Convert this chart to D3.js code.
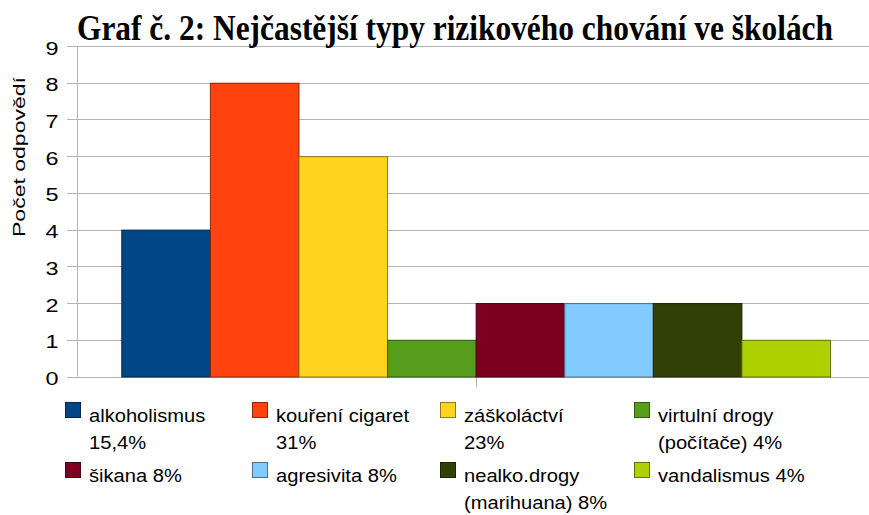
<!DOCTYPE html>
<html>
<head>
<meta charset="utf-8">
<script src="https://cdn.jsdelivr.net/npm/d3@7"></script>
<style>
  body { margin: 0; background: #fff; }
  svg { display: block; }
</style>
</head>
<body>
<div id="chart"></div>
<script>
const title = "Graf č. 2: Nejčastější typy rizikového chování ve školách";
const yLabel = "Počet odpovědí";
const series = ["alkoholismus", "kouření cigaret", "záškoláctví", "virtulní drogy",
                "šikana", "agresivita", "nealko.drogy", "vandalismus"];
const values = [4, 8, 6, 1, 2, 2, 2, 1];
const legendLabels = [
    ["alkoholismus", "15,4%"],
    ["kouření cigaret", "31%"],
    ["záškoláctví", "23%"],
    ["virtulní drogy", "(počítače) 4%"],
    ["šikana 8%"],
    ["agresivita 8%"],
    ["nealko.drogy", "(marihuana) 8%"],
    ["vandalismus 4%"]
];
const colors = ["#004586", "#ff420e", "#ffd320", "#579d1c", "#7e0021", "#83caff", "#314004", "#aecf00"];
const yTicks = [0, 1, 2, 3, 4, 5, 6, 7, 8, 9];

const width = 869, height = 515;
const plot = { left: 77.5, top: 46, bottom: 376.5, barsLeft: 121.3, barsRight: 830 };

const svg = d3.select("#chart").append("svg")
    .attr("width", width)
    .attr("height", height)
    .style("font-family", "'Liberation Sans', Arial, sans-serif");

// the original text is drawn a bit wider than the font, stretch it
function stretch(sel, k) {
    sel.each(function() {
        const w = this.getComputedTextLength();
        d3.select(this).attr("textLength", w * k).attr("lengthAdjust", "spacingAndGlyphs");
    });
}

const y = d3.scaleLinear().domain([0, 9]).range([plot.bottom, plot.top]);
const xs = d3.scaleBand().domain(series).range([plot.barsLeft, plot.barsRight]);

// grid
svg.append("g")
    .selectAll("line")
    .data(yTicks)
    .join("line")
    .attr("x1", 67)
    .attr("x2", width)
    .attr("y1", d => Math.round(y(d)) + 0.5)
    .attr("y2", d => Math.round(y(d)) + 0.5)
    .attr("stroke", "#b3b3b3")
    .attr("stroke-width", 1);

// y axis line
svg.append("line")
    .attr("x1", plot.left).attr("x2", plot.left)
    .attr("y1", plot.top).attr("y2", plot.bottom)
    .attr("stroke", "#b3b3b3");

// x tick at category centre
const cx = Math.round((plot.barsLeft + plot.barsRight) / 2) + 0.5;
svg.append("line")
    .attr("x1", cx).attr("x2", cx)
    .attr("y1", plot.bottom).attr("y2", plot.bottom + 11)
    .attr("stroke", "#b3b3b3");

// y tick labels
svg.append("g")
    .selectAll("text")
    .data(yTicks)
    .join("text")
    .attr("x", 58.5)
    .attr("y", d => y(d) + 8.5)
    .attr("text-anchor", "end")
    .attr("font-size", 18)
    .attr("fill", "#000")
    .text(d => d)
    .call(stretch, 1.3);

// bars
svg.append("g")
    .selectAll("rect")
    .data(values)
    .join("rect")
    .attr("x", (d, i) => xs(series[i]) + 0.5)
    .attr("y", d => y(d) + 0.5)
    .attr("width", xs.bandwidth())
    .attr("height", d => y(0) - y(d))
    .attr("fill", (d, i) => colors[i])
    .attr("stroke", (d, i) => d3.color(colors[i]).darker(1.6))
    .attr("stroke-width", 1);

// y axis title
svg.append("text")
    .attr("transform", "translate(24.5,157) rotate(-90)")
    .attr("text-anchor", "middle")
    .attr("font-size", 17)
    .text(yLabel)
    .attr("textLength", 160)
    .attr("lengthAdjust", "spacingAndGlyphs");

// title
svg.append("text")
    .attr("x", 77)
    .attr("y", 40)
    .attr("font-family", "'Liberation Serif', 'Times New Roman', serif")
    .attr("font-weight", "bold")
    .attr("font-size", 35)
    .text(title)
    .attr("textLength", 756)
    .attr("lengthAdjust", "spacingAndGlyphs");

// legend
const colX = [65, 252, 440, 634];
const rowY = [402, 462];
const legend = svg.append("g")
    .selectAll("g")
    .data(legendLabels)
    .join("g")
    .attr("transform", (d, i) => `translate(${colX[i % 4]},${rowY[Math.floor(i / 4)]})`);

legend.append("rect")
    .attr("x", 0.5).attr("y", 0.5)
    .attr("width", 15).attr("height", 15)
    .attr("fill", (d, i) => colors[i])
    .attr("stroke", (d, i) => d3.color(colors[i]).darker(1.6));

legend.selectAll("text")
    .data(d => d)
    .join("text")
    .attr("x", 24)
    .attr("y", (d, i) => 20 + i * 26.6)
    .attr("font-size", 17.5)
    .text(d => d)
    .call(stretch, 1.15);
</script>
</body>
</html>
